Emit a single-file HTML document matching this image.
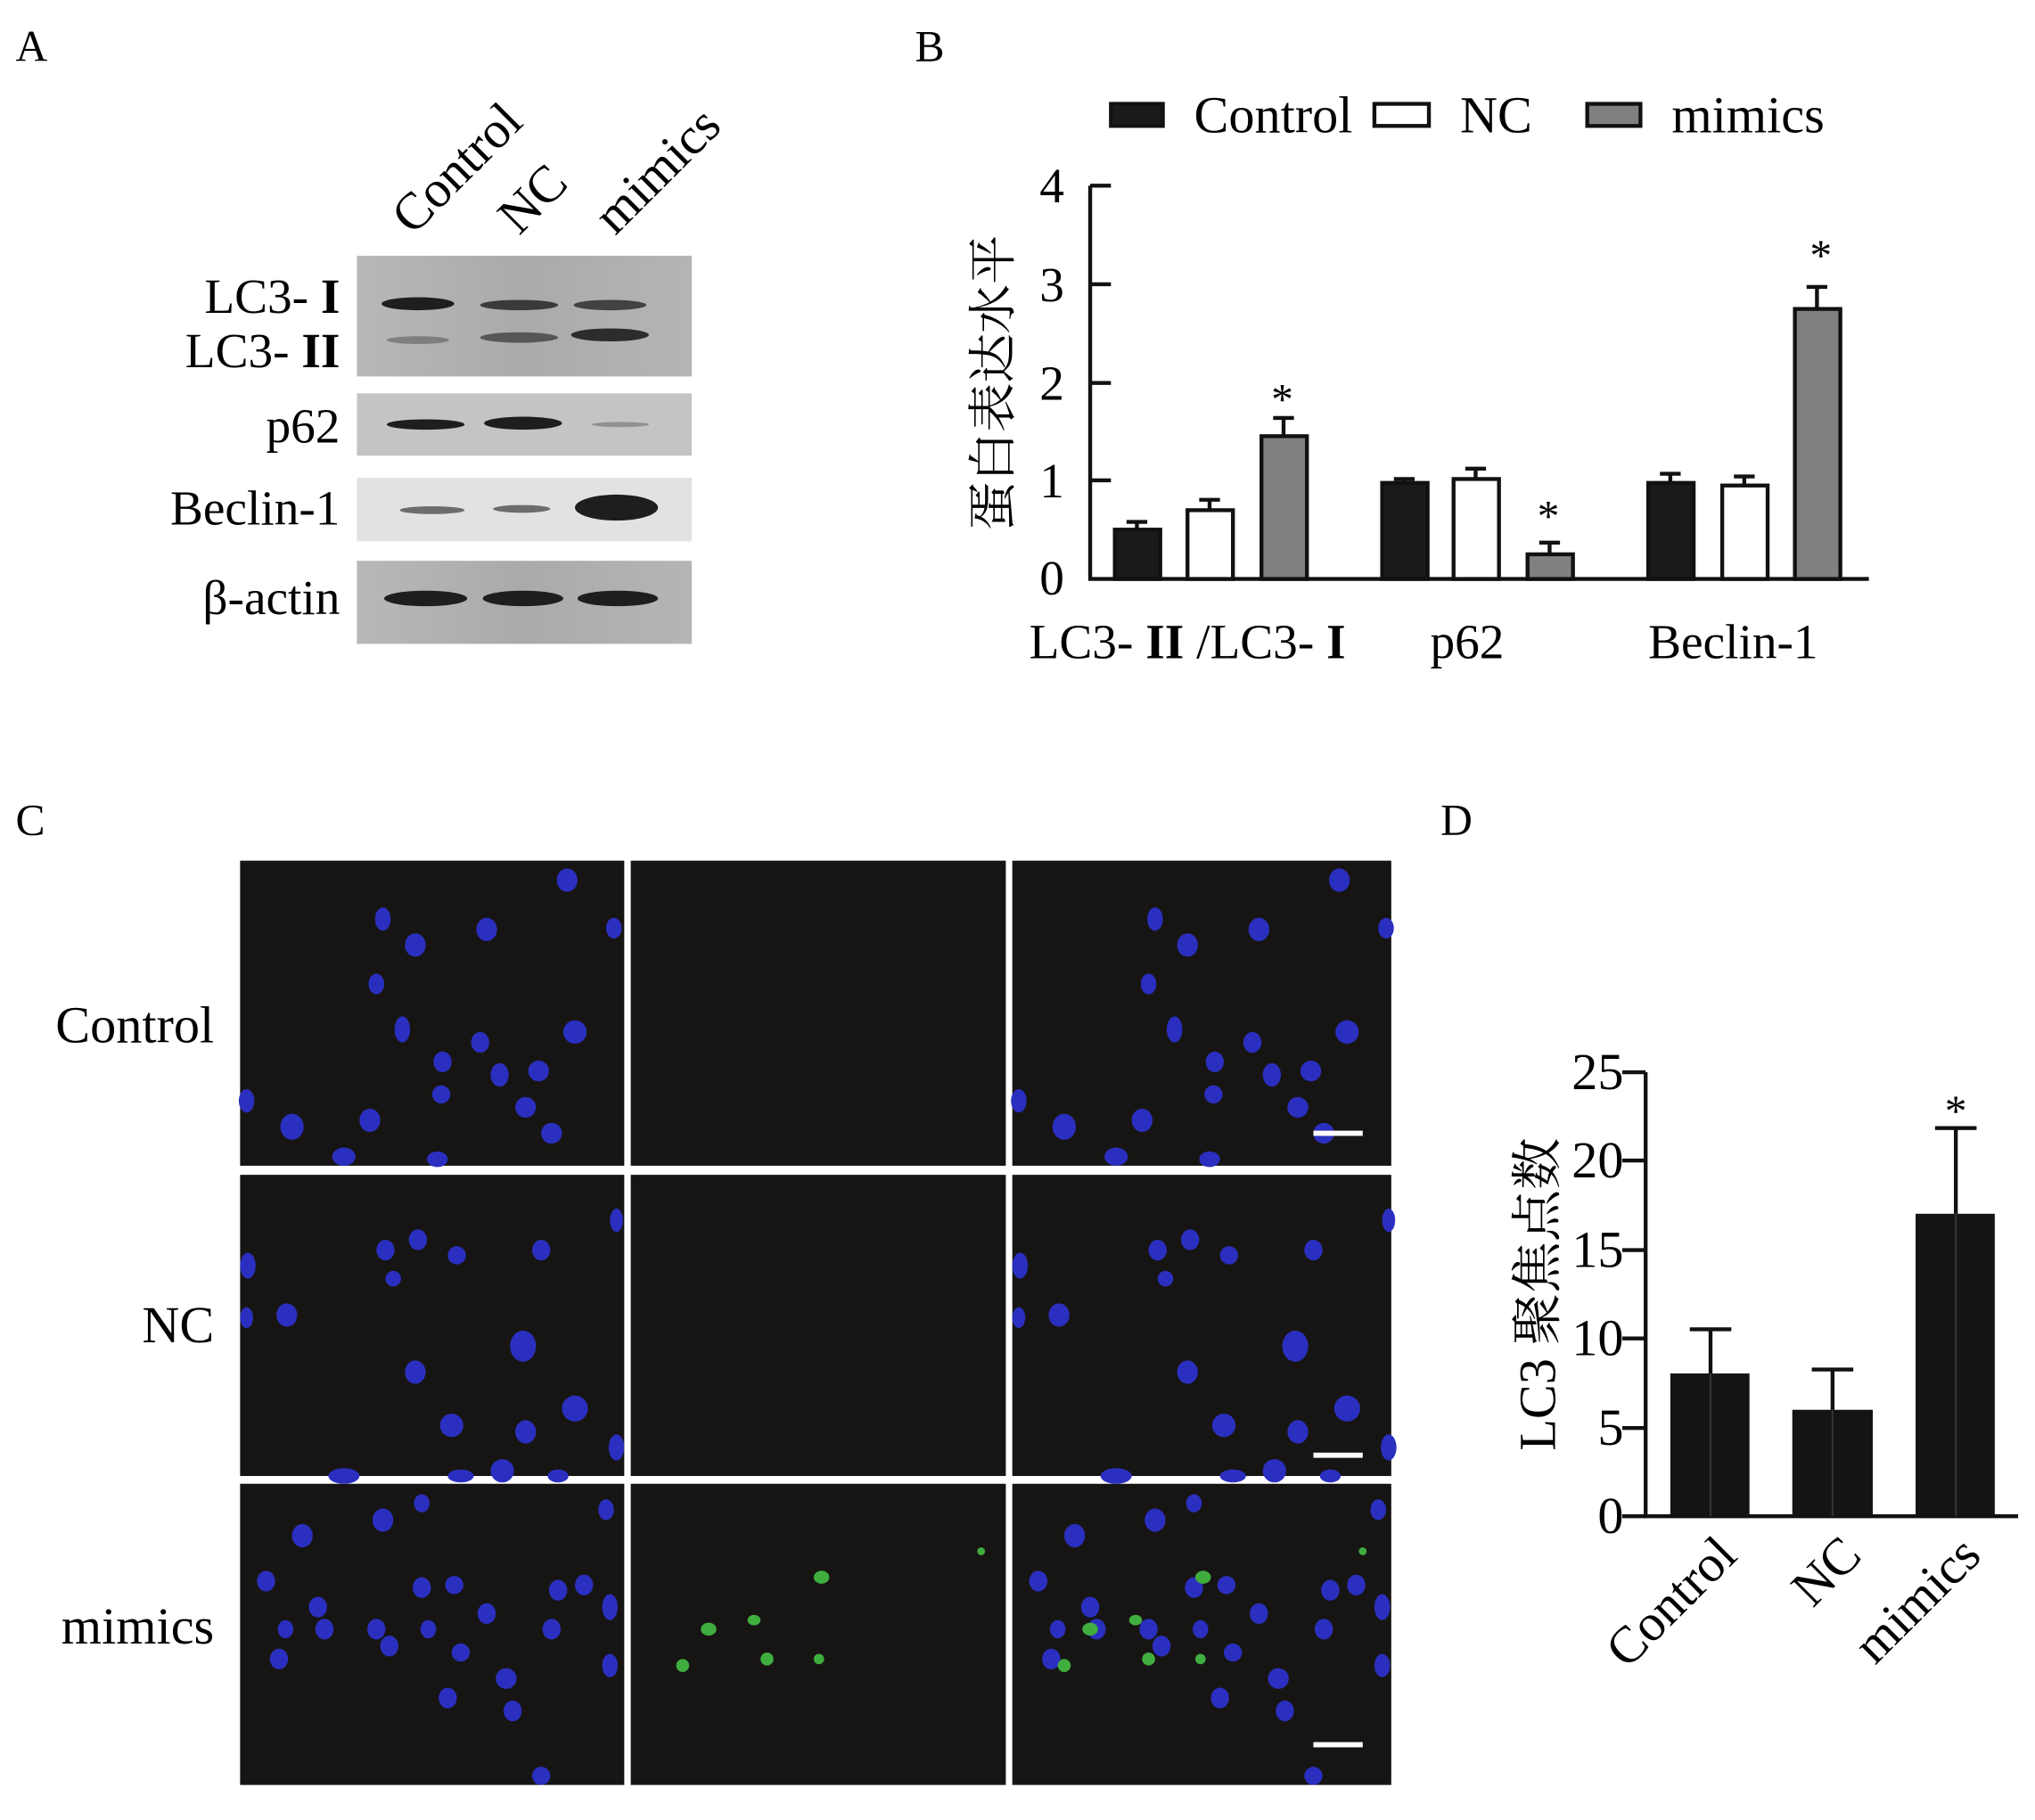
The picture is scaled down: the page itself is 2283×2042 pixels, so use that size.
<!DOCTYPE html>
<html><head><meta charset="utf-8"><style>html,body{margin:0;padding:0;background:#fff}svg{display:block}</style></head>
<body>
<svg width="2283" height="2042" viewBox="0 0 1568 1402" preserveAspectRatio="none" xmlns="http://www.w3.org/2000/svg" font-family="'Liberation Serif','Noto Serif CJK SC',serif">
<defs>
<linearGradient id="bg1" x1="0" x2="1"><stop offset="0" stop-color="#b8b8b8"/><stop offset="0.5" stop-color="#aaaaaa"/><stop offset="1" stop-color="#b5b5b5"/></linearGradient>
</defs>
<rect width="1568" height="1402" fill="#fff"/>
<!-- Panel A -->
<text x="12" y="47" font-size="34">A</text>
<g font-size="40">
<text transform="translate(318,182) rotate(-45)">Control</text>
<text transform="translate(400,182) rotate(-45)">NC</text>
<text transform="translate(474,182) rotate(-45)">mimics</text>
</g>
<rect x="275" y="197" width="258" height="93" fill="url(#bg1)"/>
<rect x="275" y="303" width="258" height="48" fill="#c4c4c4"/>
<rect x="275" y="368" width="258" height="49" fill="#e2e2e2"/>
<rect x="275" y="432" width="258" height="64" fill="url(#bg1)"/>
<g fill="#1e1e1e">
<ellipse cx="322" cy="234" rx="28" ry="5"/><ellipse cx="400" cy="235" rx="30" ry="4" opacity=".8"/><ellipse cx="470" cy="235" rx="28" ry="4" opacity=".75"/>
<ellipse cx="322" cy="262" rx="24" ry="3" opacity=".35"/><ellipse cx="400" cy="260" rx="30" ry="4" opacity=".6"/><ellipse cx="470" cy="258" rx="30" ry="5" opacity=".9"/>
<ellipse cx="328" cy="327" rx="30" ry="4"/><ellipse cx="403" cy="326" rx="30" ry="5"/><ellipse cx="478" cy="327" rx="22" ry="2" opacity=".3"/>
<ellipse cx="333" cy="393" rx="25" ry="3" opacity=".6"/><ellipse cx="402" cy="392" rx="22" ry="3" opacity=".6"/><ellipse cx="475" cy="391" rx="32" ry="10"/>
<ellipse cx="328" cy="461" rx="32" ry="6"/><ellipse cx="403" cy="461" rx="31" ry="6"/><ellipse cx="476" cy="461" rx="31" ry="6"/>
</g>
<g font-size="38" text-anchor="end">
<text x="262" y="241">LC3- <tspan font-family="'Liberation Serif',serif" font-weight="bold">I</tspan></text><text x="262" y="283">LC3- <tspan font-family="'Liberation Serif',serif" font-weight="bold">II</tspan></text><text x="262" y="341">p62</text><text x="262" y="404">Beclin-1</text><text x="262" y="473">β-actin</text>
</g>
<!-- Panel B -->
<text x="705" y="47" font-size="34">B</text>
<g stroke="#111" stroke-width="3">
<rect x="856" y="80" width="40" height="17" fill="#1a1a1a"/>
<rect x="1059" y="80" width="42" height="17" fill="#fff"/>
<rect x="1223" y="80" width="41" height="17" fill="#808080"/>
</g>
<g font-size="40"><text x="920" y="102">Control</text><text x="1125" y="102">NC</text><text x="1288" y="102">mimics</text></g>
<g stroke="#111" stroke-width="3" fill="none">
<path d="M840 143V446H1440"/>
<path d="M840 143h16M840 219h16M840 295h16M840 370h16"/>
</g>
<g font-size="38" text-anchor="end"><text x="820" y="156">4</text><text x="820" y="232">3</text><text x="820" y="308">2</text><text x="820" y="383">1</text><text x="820" y="458">0</text></g>
<text transform="translate(778,295) rotate(-90)" font-size="38" text-anchor="middle">蛋白表达水平</text>
<g stroke="#111" stroke-width="3">
<path d="M876 408V402M868 402h16M932 393V385M924 385h16M989 336V322M981 322h16M1082 372V369M1074 369h16M1137 369V361M1129 361h16M1194 427V418M1186 418h16M1287 372V365M1279 365h16M1344 374V367M1336 367h16M1400 238V221M1392 221h16" fill="none"/>
<rect x="859" y="408" width="35" height="38" fill="#1a1a1a"/>
<rect x="915" y="393" width="35" height="53" fill="#fff"/>
<rect x="972" y="336" width="35" height="110" fill="#808080"/>
<rect x="1065" y="372" width="35" height="74" fill="#1a1a1a"/>
<rect x="1120" y="369" width="35" height="77" fill="#fff"/>
<rect x="1177" y="427" width="35" height="19" fill="#808080"/>
<rect x="1270" y="372" width="35" height="74" fill="#1a1a1a"/>
<rect x="1327" y="374" width="35" height="72" fill="#fff"/>
<rect x="1383" y="238" width="35" height="208" fill="#808080"/>
</g>
<g font-size="34" text-anchor="middle"><text x="988" y="319">*</text><text x="1193" y="409">*</text><text x="1403" y="208">*</text></g>
<g font-size="38"><text x="793" y="507">LC3- <tspan font-weight="bold">II</tspan> /LC3- <tspan font-weight="bold">I</tspan></text><text x="1102" y="507">p62</text><text x="1270" y="507">Beclin-1</text></g>
<!-- Panel C -->
<text x="12" y="643" font-size="34">C</text>
<g fill="#171514">
<rect x="185" y="663" width="296" height="235"/><rect x="486" y="663" width="289" height="235"/><rect x="780" y="663" width="292" height="235"/>
<rect x="185" y="905" width="296" height="232"/><rect x="486" y="905" width="289" height="232"/><rect x="780" y="905" width="292" height="232"/>
<rect x="185" y="1143" width="296" height="232"/><rect x="486" y="1143" width="289" height="232"/><rect x="780" y="1143" width="292" height="232"/>
</g>
<defs>
<g id="n1" fill="#2b2fbf">
<ellipse cx="252" cy="15" rx="8" ry="9"/><ellipse cx="110" cy="45" rx="6" ry="9"/><ellipse cx="135" cy="65" rx="8" ry="9"/><ellipse cx="190" cy="53" rx="8" ry="9"/><ellipse cx="288" cy="52" rx="6" ry="8"/><ellipse cx="105" cy="95" rx="6" ry="8"/><ellipse cx="125" cy="130" rx="6" ry="10"/><ellipse cx="185" cy="140" rx="7" ry="8"/><ellipse cx="258" cy="132" rx="9" ry="9"/><ellipse cx="156" cy="155" rx="7" ry="8"/><ellipse cx="200" cy="165" rx="7" ry="9"/><ellipse cx="230" cy="162" rx="8" ry="8"/><ellipse cx="155" cy="180" rx="7" ry="7"/><ellipse cx="220" cy="190" rx="8" ry="8"/><ellipse cx="40" cy="205" rx="9" ry="10"/><ellipse cx="100" cy="200" rx="8" ry="9"/><ellipse cx="240" cy="210" rx="8" ry="8"/><ellipse cx="5" cy="185" rx="6" ry="9"/><ellipse cx="80" cy="228" rx="9" ry="7"/><ellipse cx="152" cy="230" rx="8" ry="6"/>
</g>
<g id="n2" fill="#2b2fbf">
<ellipse cx="112" cy="58" rx="7" ry="8"/><ellipse cx="137" cy="50" rx="7" ry="8"/><ellipse cx="167" cy="62" rx="7" ry="7"/><ellipse cx="118" cy="80" rx="6" ry="6"/><ellipse cx="232" cy="58" rx="7" ry="8"/><ellipse cx="6" cy="70" rx="6" ry="10"/><ellipse cx="36" cy="108" rx="8" ry="9"/><ellipse cx="218" cy="132" rx="10" ry="12"/><ellipse cx="135" cy="152" rx="8" ry="9"/><ellipse cx="5" cy="110" rx="5" ry="8"/><ellipse cx="290" cy="35" rx="5" ry="9"/><ellipse cx="163" cy="193" rx="9" ry="9"/><ellipse cx="220" cy="198" rx="8" ry="9"/><ellipse cx="258" cy="180" rx="10" ry="10"/><ellipse cx="202" cy="228" rx="9" ry="9"/><ellipse cx="290" cy="210" rx="6" ry="10"/><ellipse cx="80" cy="232" rx="12" ry="6"/><ellipse cx="170" cy="232" rx="10" ry="5"/><ellipse cx="245" cy="232" rx="8" ry="5"/>
</g>
<g id="n3" fill="#2b2fbf">
<ellipse cx="48" cy="40" rx="8" ry="9"/><ellipse cx="110" cy="28" rx="8" ry="9"/><ellipse cx="140" cy="15" rx="6" ry="7"/><ellipse cx="282" cy="20" rx="6" ry="8"/><ellipse cx="20" cy="75" rx="7" ry="8"/><ellipse cx="60" cy="95" rx="7" ry="8"/><ellipse cx="140" cy="80" rx="7" ry="8"/><ellipse cx="165" cy="78" rx="7" ry="7"/><ellipse cx="245" cy="82" rx="7" ry="8"/><ellipse cx="265" cy="78" rx="7" ry="8"/><ellipse cx="285" cy="95" rx="6" ry="10"/><ellipse cx="190" cy="100" rx="7" ry="8"/><ellipse cx="35" cy="112" rx="6" ry="7"/><ellipse cx="65" cy="112" rx="7" ry="8"/><ellipse cx="105" cy="112" rx="7" ry="8"/><ellipse cx="145" cy="112" rx="6" ry="7"/><ellipse cx="240" cy="112" rx="7" ry="8"/><ellipse cx="115" cy="125" rx="7" ry="8"/><ellipse cx="170" cy="130" rx="7" ry="7"/><ellipse cx="30" cy="135" rx="7" ry="8"/><ellipse cx="205" cy="150" rx="8" ry="8"/><ellipse cx="285" cy="140" rx="6" ry="9"/><ellipse cx="160" cy="165" rx="7" ry="8"/><ellipse cx="210" cy="175" rx="7" ry="8"/><ellipse cx="232" cy="225" rx="7" ry="7"/>
</g>
<g id="g3" fill="#3fae3f">
<ellipse cx="147" cy="72" rx="6" ry="5"/><ellipse cx="60" cy="112" rx="6" ry="5"/><ellipse cx="95" cy="105" rx="5" ry="4"/><ellipse cx="40" cy="140" rx="5" ry="5"/><ellipse cx="105" cy="135" rx="5" ry="5"/><ellipse cx="145" cy="135" rx="4" ry="4"/><ellipse cx="270" cy="52" rx="3" ry="3"/>
</g>
</defs>
<use href="#n1" x="185" y="663"/><use href="#n1" x="780" y="663"/>
<use href="#n2" x="185" y="905"/><use href="#n2" x="780" y="905"/>
<use href="#n3" x="185" y="1143"/><use href="#n3" x="780" y="1143"/>
<use href="#g3" x="486" y="1143"/><use href="#g3" x="780" y="1143"/>
<g fill="#fff"><rect x="1012" y="871" width="38" height="4"/><rect x="1012" y="1119" width="38" height="4"/><rect x="1012" y="1342" width="38" height="4"/></g>
<g font-size="40" text-anchor="end"><text x="165" y="803">Control</text><text x="165" y="1034">NC</text><text x="165" y="1266">mimics</text></g>
<!-- Panel D -->
<text x="1110" y="643" font-size="34">D</text>
<g stroke="#111" stroke-width="3" fill="none">
<path d="M1268 826V1168H1555"/>
<path d="M1250 826h18M1250 894h18M1250 963h18M1250 1031h18M1250 1100h18M1250 1168h18"/>
<path d="M1318 1058V1024M1302 1024h32M1412 1086V1055M1396 1055h32M1507 935V869M1491 869h32"/>
</g>
<g fill="#141414"><rect x="1287" y="1058" width="61" height="110"/><rect x="1381" y="1086" width="62" height="82"/><rect x="1476" y="935" width="61" height="233"/></g>
<g stroke="#333" stroke-width="1.5"><path d="M1318 1058V1168M1412 1086V1168M1507 935V1168"/></g>
<text x="1507" y="867" font-size="34" text-anchor="middle">*</text>
<g font-size="40" text-anchor="end"><text x="1251" y="839">25</text><text x="1251" y="907">20</text><text x="1251" y="976">15</text><text x="1251" y="1044">10</text><text x="1251" y="1113">5</text><text x="1251" y="1181">0</text></g>
<text transform="translate(1198,997) rotate(-90)" font-size="40" text-anchor="middle">LC3 聚焦点数</text>
<g font-size="40" text-anchor="end">
<text transform="translate(1340,1200) rotate(-45)">Control</text>
<text transform="translate(1436,1200) rotate(-45)">NC</text>
<text transform="translate(1528,1200) rotate(-45)">mimics</text>
</g>
</svg>
</body></html>
